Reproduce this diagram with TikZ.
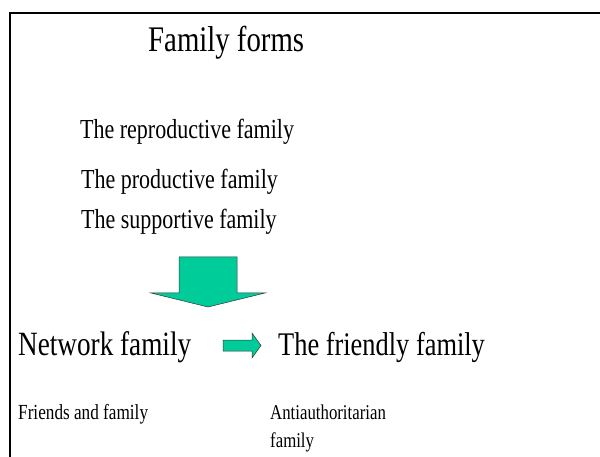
\documentclass[tikz,border=0pt]{standalone}
\usepackage{fontspec}
\setmainfont{Liberation Serif}[FakeStretch=0.8]
\definecolor{arrowgreen}{RGB}{0,204,153}
\begin{document}
\begin{tikzpicture}[x=1pt,y=-1pt,
  lbl/.style={anchor=base west,inner sep=0pt,text=black},
  blockarrow/.style={fill=arrowgreen,draw=black!80,line width=0.5pt,line join=miter}]
\useasboundingbox (0,0) rectangle (600,457);
% frame
\draw[line width=2pt] (600,13) -- (9.5,13) -- (9.5,457);
% title and list of forms
\node[lbl,font=\fontsize{36}{40}\selectfont] (title) at (148,52) {Family forms};
\node[lbl,font=\fontsize{27.5}{32}\selectfont] (repro) at (80,139) {The reproductive family};
\node[lbl,font=\fontsize{27.5}{32}\selectfont] (prod) at (81,189) {The productive family};
\node[lbl,font=\fontsize{27.5}{32}\selectfont] (supp) at (81,229) {The supportive family};
% downward block arrow
\draw[blockarrow] (179,257) -- (237,257) -- (237,293) -- (265,293) -- (208,307)
  -- (151,293) -- (179,293) -- cycle;
% bottom row
\node[lbl,font=\fontsize{34}{38}\selectfont] (network) at (18,355) {Network family};
\node[lbl,font=\fontsize{33}{38}\selectfont] (friendly) at (278,355) {The friendly family};
% small right arrow
\draw[blockarrow] (223,340) -- (252,340) -- (252,333) -- (261,345.5) -- (252,358)
  -- (252,351) -- (223,351) -- cycle;
\node[lbl,font=\fontsize{21.5}{28}\selectfont] (friends) at (18,419) {Friends and family};
% two-line label: its base anchor sits on the last line
\node[lbl,font=\fontsize{21}{28}\selectfont,align=left] (anti) at (270,447) {Antiauthoritarian\\family};
\end{tikzpicture}
\end{document}
